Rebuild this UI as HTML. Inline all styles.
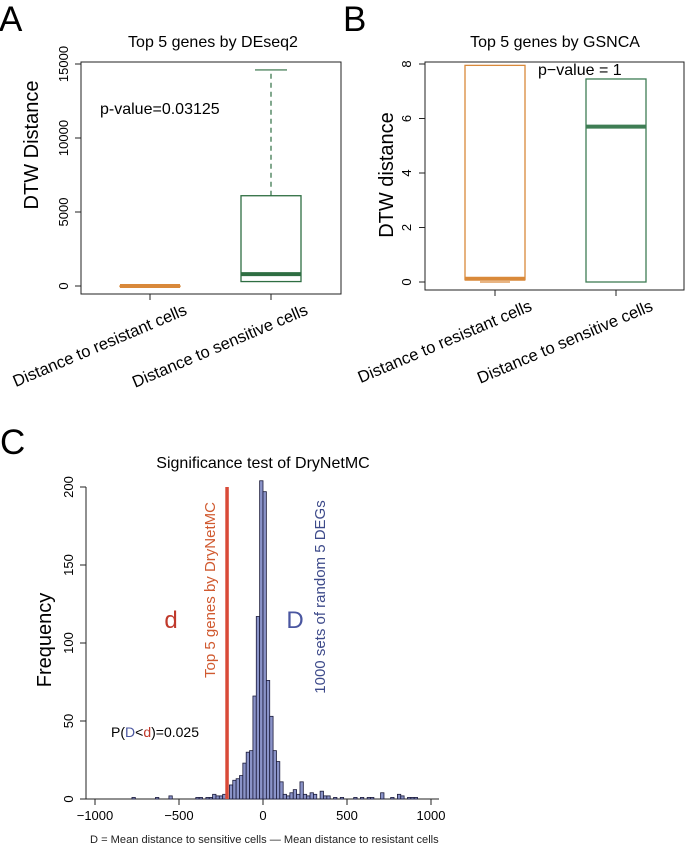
<!DOCTYPE html>
<html><head><meta charset="utf-8"><style>
body{margin:0;background:#fff;}
svg{display:block;font-family:"Liberation Sans",Arial,sans-serif;}
</style></head><body>
<svg width="686" height="848" viewBox="0 0 686 848">
<!-- Panel A -->
<g>
<text x="-1" y="31" font-size="35">A</text>
<text x="213" y="47" font-size="16" text-anchor="middle">Top 5 genes by DEseq2</text>
<rect x="81" y="62" width="260" height="232" fill="none" stroke="#222" stroke-width="1"/>
<text transform="translate(38,145) rotate(-90)" font-size="20" text-anchor="middle">DTW Distance</text>
<text x="100" y="114" font-size="16">p-value=0.03125</text>
<g id="aAxis"></g>
<g id="aBoxes"></g>
<text transform="translate(188,314) rotate(-23)" font-size="16.5" text-anchor="end">Distance to resistant cells</text>
<text transform="translate(309,314) rotate(-23)" font-size="16.5" text-anchor="end">Distance to sensitive cells</text>
</g>
<!-- Panel B -->
<g>
<text x="343" y="31" font-size="35">B</text>
<text x="555" y="47" font-size="16" text-anchor="middle">Top 5 genes by GSNCA</text>
<rect x="425" y="62" width="259" height="228" fill="none" stroke="#222" stroke-width="1"/>
<text transform="translate(393,175) rotate(-90)" font-size="20" text-anchor="middle">DTW distance</text>
<text x="538" y="75" font-size="16">p−value = 1</text>
<g id="bAxis"></g>
<g id="bBoxes"></g>
<text transform="translate(533,310) rotate(-23)" font-size="16.5" text-anchor="end">Distance to resistant cells</text>
<text transform="translate(654,310) rotate(-23)" font-size="16.5" text-anchor="end">Distance to sensitive cells</text>
</g>
<!-- Panel C -->
<g>
<text x="0" y="454" font-size="35">C</text>
<text x="263" y="468" font-size="16" text-anchor="middle">Significance test of DryNetMC</text>
<text transform="translate(51,640) rotate(-90)" font-size="20" text-anchor="middle">Frequency</text>
<g id="cAxis"></g>
<g id="cBars"></g>
<text x="171" y="628" font-size="24" fill="#c0392b" text-anchor="middle">d</text>
<text x="295" y="628" font-size="24" fill="#4a56a0" text-anchor="middle">D</text>
<text transform="translate(215,590) rotate(-90)" font-size="15" fill="#d05a30" text-anchor="middle">Top 5 genes by DryNetMC</text>
<text transform="translate(325,597) rotate(-90)" font-size="15" fill="#3d4a8a" text-anchor="middle">1000 sets of random 5 DEGs</text>
<text x="111" y="737" font-size="14">P(<tspan fill="#4a56a0">D</tspan>&lt;<tspan fill="#c0392b">d</tspan>)=0.025</text>
<text x="90" y="843" font-size="11.1" fill="#222">D = Mean distance to sensitive cells  —  Mean distance to resistant cells</text>
</g>
</svg>
<script>
const NS="http://www.w3.org/2000/svg";
// Panel A data
const aTicks=[0,5000,10000,15000];
const aGroups=["resistant","sensitive"];
const aMin=[0,300];const aQ1=[0,300];const aMed=[0,800];const aQ3=[0,6100];const aMax=[0,14600];
// Panel B data
const bTicks=[0,2,4,6,8];
const bGroups=["resistant","sensitive"];
const bMin=[0,0];const bQ1=[0.08,0];const bMed=[0.12,5.7];const bQ3=[7.95,7.45];const bMax=[7.95,7.45];
// Panel C data
const cXTicks=[-1000,-500,0,500,1000];
const cYTicks=[0,50,100,150,200];
const binStarts=[-780,-640,-560,-400,-380,-340,-320,-300,-280,-260,-240,-200,-180,-160,-140,-120,-100,-80,-60,-40,-20,0,20,40,60,80,100,120,140,160,180,200,220,240,260,280,300,340,360,380,420,460,540,580,620,640,700,760,800,820,860,880,900];
const binCounts=[1,1,2,1,1,1,1,3,2,2,3,9,12,13,15,23,30,31,66,117,204,197,76,53,31,24,11,3,2,4,6,3,11,3,2,4,3,5,2,2,1,1,1,1,1,1,4,1,3,2,1,1,1];
const binWidth=20;
const dValue=-214;

function el(tag,attrs,parent){const e=document.createElementNS(NS,tag);for(const k in attrs)e.setAttribute(k,attrs[k]);parent.appendChild(e);return e;}

function boxPanel(gAxis,gBox,ticks,y,xs,mins,q1,med,q3,max,cols,halfW,capW,axisX,axisY,tickLabelX,groupsName){
  el('line',{x1:axisX,x2:axisX,y1:y(ticks[0]),y2:y(ticks[ticks.length-1]),stroke:'#222'},gAxis);
  ticks.forEach(t=>{
    const tk=el('line',{x1:axisX-6,x2:axisX,y1:y(t),y2:y(t),stroke:'#222'},gAxis);
    
    
    const tx=el('text',{transform:`translate(${tickLabelX},${y(t)}) rotate(-90)`,'font-size':13,'text-anchor':'middle'},gAxis);
    tx.textContent=t;
    
    
  });
  xs.forEach(x=>{
    const tk=el('line',{x1:x,x2:x,y1:axisY,y2:axisY+6,stroke:'#222'},gAxis);
    
    
  });
  xs.forEach((x,i)=>{
    const c=cols[i];
    const g=el('g',{},gBox);
    
    
    if(max[i]>q3[i]){el('line',{x1:x,x2:x,y1:y(q3[i]),y2:y(max[i]),stroke:c,'stroke-dasharray':'5,4','stroke-width':1.2},g);
      el('line',{x1:x-capW,x2:x+capW,y1:y(max[i]),y2:y(max[i]),stroke:c,'stroke-width':1.2},g);}
    if(mins[i]<q1[i]){el('line',{x1:x-capW,x2:x+capW,y1:y(mins[i]),y2:y(mins[i]),stroke:c,'stroke-width':1.2},g);}
    el('rect',{x:x-halfW,y:y(q3[i]),width:2*halfW,height:Math.max(0.5,y(q1[i])-y(q3[i])),fill:'none',stroke:c,'stroke-width':1.3},g);
    el('line',{x1:x-halfW,x2:x+halfW,y1:y(med[i]),y2:y(med[i]),stroke:c,'stroke-width':4},g);
  });
}
// Panel A
(function(){
  const y=v=>286-(v/15000)*222;
  boxPanel(document.getElementById('aAxis'),document.getElementById('aBoxes'),aTicks,y,[150,271],aMin,aQ1,aMed,aQ3,aMax,['#d9893a','#2e6e42'],30,16,81,294,68,aGroups);
})();
// Panel B
(function(){
  const y=v=>282-(v/8)*218;
  boxPanel(document.getElementById('bAxis'),document.getElementById('bBoxes'),bTicks,y,[495,616],bMin,bQ1,bMed,bQ3,bMax,['#d9893a','#3e7d54'],30,15,425,290,411,bGroups);
})();
// Panel C
(function(){
  const x=v=>263+v*0.168;
  const y=c=>799-c*1.56;
  const ga=document.getElementById('cAxis'),gb=document.getElementById('cBars');
  el('line',{x1:86,x2:86,y1:y(0),y2:y(200),stroke:'#222'},ga);
  cYTicks.forEach(t=>{
    const tk=el('line',{x1:80,x2:86,y1:y(t),y2:y(t),stroke:'#222'},ga);
    
    
    const tx=el('text',{transform:`translate(73,${y(t)}) rotate(-90)`,'font-size':13,'text-anchor':'middle'},ga);
    tx.textContent=t;
    
    
  });
  el('line',{x1:86,x2:x(1000)+8,y1:y(0),y2:y(0),stroke:'#222'},ga);
  cXTicks.forEach(t=>{
    const tk=el('line',{x1:x(t),x2:x(t),y1:y(0),y2:y(0)+6,stroke:'#222'},ga);
    
    
    const tx=el('text',{x:x(t),y:y(0)+21,'font-size':13,'text-anchor':'middle'},ga);
    tx.textContent=(t<0?'−':'')+Math.abs(t);
    
    
  });
  binStarts.forEach((s,i)=>{
    const r=el('rect',{x:x(s),y:y(binCounts[i]),width:binWidth*0.168,height:binCounts[i]*1.56,fill:'#8a93c8',stroke:'#1a1a3a','stroke-width':0.8},gb);
    
    
  });
  const rl=el('line',{x1:x(dValue),x2:x(dValue),y1:y(200),y2:y(0),stroke:'#d94a38','stroke-width':3.5},gb);
  
  
})();
</script>
</body></html>
